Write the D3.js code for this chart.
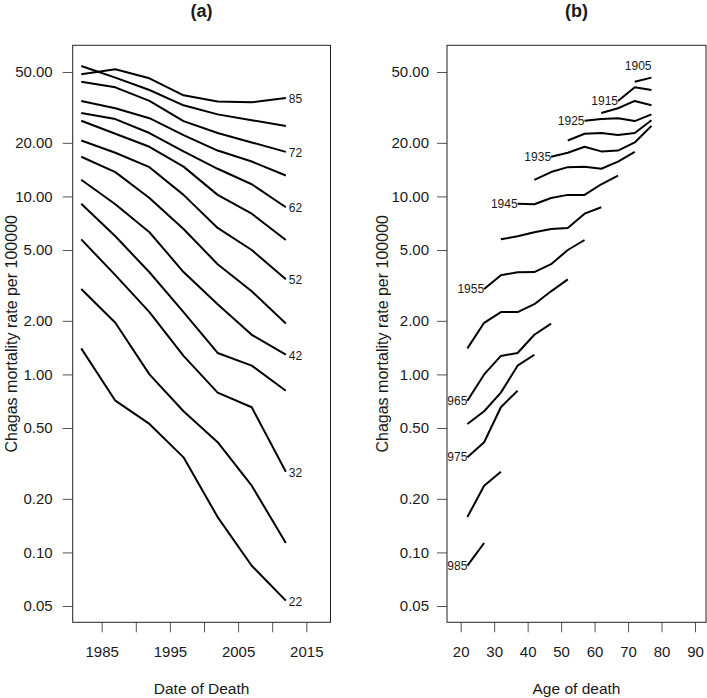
<!DOCTYPE html>
<html><head><meta charset="utf-8">
<script src="https://cdn.jsdelivr.net/npm/d3@7"></script>
<style>
body{margin:0;background:#fff}
svg{display:block}
text{font-family:"Liberation Sans",Arial,Helvetica,sans-serif;fill:#1a1a1a}
</style>
</head><body>
<svg id="chart" width="707" height="698"></svg>
<script>
// ---------------- data ----------------
const years = [1982, 1987, 1992, 1997, 2002, 2007, 2012];
const ages = [22, 27, 32, 37, 42, 47, 52, 57, 62, 67, 72, 77];
// Chagas mortality rate per 100000 by age group (rows) and year of death (columns)
const rateAge22 = [1.40, 0.712, 0.527, 0.342, 0.158, 0.0842, 0.0536];
const rateAge27 = [3.02, 1.95, 1.00, 0.621, 0.416, 0.237, 0.113];
const rateAge32 = [5.74, 3.61, 2.24, 1.27, 0.790, 0.654, 0.284];
const rateAge37 = [9.10, 5.97, 3.75, 2.24, 1.32, 1.12, 0.810];
const rateAge42 = [12.4, 9.03, 6.29, 3.76, 2.48, 1.67, 1.29];
const rateAge47 = [16.7, 13.7, 9.80, 6.56, 4.16, 2.93, 1.93];
const rateAge52 = [20.6, 17.6, 14.6, 10.2, 6.65, 5.00, 3.42];
const rateAge57 = [26.6, 22.5, 19.0, 14.7, 10.2, 8.00, 5.69];
const rateAge62 = [29.4, 27.2, 22.7, 17.9, 14.3, 11.7, 8.69];
const rateAge67 = [34.4, 31.3, 27.5, 22.1, 18.1, 15.7, 13.1];
const rateAge72 = [44.1, 41.0, 34.4, 26.5, 22.7, 20.1, 17.8];
const rateAge77 = [54.0, 46.5, 39.6, 32.5, 28.9, 26.8, 24.9];
const rateAge85 = [48.5, 51.8, 46.1, 37.0, 34.1, 33.8, 35.7];
const rateRows = [rateAge22, rateAge27, rateAge32, rateAge37, rateAge42, rateAge47,
                  rateAge52, rateAge57, rateAge62, rateAge67, rateAge72, rateAge77];
const openAgeLabel = 85;

const ageLabels = [22, 32, 42, 52, 62, 72, 85];
const cohorts = [1905, 1910, 1915, 1920, 1925, 1930, 1935, 1940, 1945, 1950, 1955, 1960, 1965, 1970, 1975, 1980, 1985];
const cohortLabels = [1905, 1915, 1925, 1935, 1945, 1955, 1965, 1975, 1985];

const yTicks = [0.05, 0.10, 0.20, 0.50, 1.00, 2.00, 5.00, 10.00, 20.00, 50.00];
const xTicksA = [1985, 1990, 1995, 2000, 2005, 2010, 2015];
const xLabelsA = [1985, 1995, 2005, 2015];
const xTicksB = [20, 30, 40, 50, 60, 70, 80, 90];

const titleA = "(a)", titleB = "(b)";
const xTitleA = "Date of Death", xTitleB = "Age of death";
const yTitle = "Chagas mortality rate per 100000";

// ---------------- layout ----------------
const svg = d3.select("#chart");
const plotTop = 45.3, plotBottom = 622.3;
const boxA = {x0: 72.7, x1: 330.5};
const boxB = {x0: 447, x1: 706};

const y = d3.scaleLog().domain([0.05, 50]).range([606, 72]);
const xA = d3.scaleLinear().domain([1985, 2015]).range([101.7, 306.3]);
const xB = d3.scaleLinear().domain([20, 90]).range([460.7, 695]);

const defs = svg.append("defs");
[["clipA", boxA], ["clipB", boxB]].forEach(([id, b]) => {
  defs.append("clipPath").attr("id", id).append("rect")
    .attr("x", b.x0).attr("y", plotTop).attr("width", b.x1 - b.x0).attr("height", plotBottom - plotTop);
});

const fmt = d3.format(".2f");
const line = (xs) => d3.line().x(d => xs(d[0])).y(d => y(d[1]));

function drawAxes(box, xs, xTicks, xLabels, yPad, title, xTitle, yTitleX) {
  const g = svg.append("g");
  const ya = g.append("g").attr("transform", `translate(${box.x0},0)`)
    .call(d3.axisLeft(y).tickValues(yTicks).tickFormat(fmt).tickSize(10).tickPadding(yPad));
  ya.select(".domain").remove();
  ya.selectAll(".tick line").attr("stroke", "#555");
  ya.selectAll(".tick text").style("font-size", "15px").attr("fill", "#1a1a1a");
  const xa = g.append("g").attr("transform", `translate(0,${plotBottom})`)
    .call(d3.axisBottom(xs).tickValues(xTicks)
      .tickFormat(d => xLabels.includes(d) ? String(d) : "").tickSize(10).tickPadding(14));
  xa.select(".domain").remove();
  xa.selectAll(".tick line").attr("stroke", "#555");
  xa.selectAll(".tick text").style("font-size", "15px").attr("fill", "#1a1a1a");
  g.append("rect").attr("x", box.x0).attr("y", plotTop)
    .attr("width", box.x1 - box.x0).attr("height", plotBottom - plotTop)
    .attr("fill", "none").attr("stroke", "#222").attr("stroke-width", 1);
  const cx = (box.x0 + box.x1) / 2;
  g.append("text").attr("x", cx).attr("y", 11).attr("text-anchor", "middle")
    .attr("dominant-baseline", "central").style("font-size", "18px").style("font-weight", "bold").text(title);
  g.append("text").attr("x", cx).attr("y", 688).attr("text-anchor", "middle")
    .attr("dominant-baseline", "central").style("font-size", "15.5px").text(xTitle);
  g.append("text").attr("transform", `translate(${yTitleX},${(plotTop + plotBottom) / 2}) rotate(-90)`)
    .attr("text-anchor", "middle").attr("dominant-baseline", "central")
    .style("font-size", "16px").text(yTitle);
}

drawAxes(boxA, xA, xTicksA, xLabelsA, 10, titleA, xTitleA, 11.7);
drawAxes(boxB, xB, xTicksB, xTicksB, 8, titleB, xTitleB, 382.5);

// ---------------- panel (a): period curves by age ----------------
const gA = svg.append("g").attr("clip-path", "url(#clipA)");
const seriesA = rateRows.map((r, i) => ({age: ages[i], pts: years.map((yr, j) => [yr, r[j]])}));
seriesA.push({age: openAgeLabel, pts: years.map((yr, j) => [yr, rateAge85[j]])});
gA.selectAll("path.a").data(seriesA).join("path").attr("class", "a")
  .attr("d", d => line(xA)(d.pts)).attr("fill", "none")
  .attr("stroke", "#000").attr("stroke-width", 2).attr("stroke-linejoin", "round");
gA.selectAll("text.lab").data(seriesA.filter(s => ageLabels.includes(s.age))).join("text")
  .attr("class", "lab")
  .attr("x", d => xA(d.pts[d.pts.length - 1][0]) + 3)
  .attr("y", d => y(d.pts[d.pts.length - 1][1]) + 1)
  .attr("dominant-baseline", "central").style("font-size", "12px")
  .text(d => d.age);

// ---------------- panel (b): cohort curves by age ----------------
const gB = svg.append("g").attr("clip-path", "url(#clipB)");
const seriesB = cohorts.map(c => ({
  cohort: c,
  pts: ages.map((a, i) => {
    const j = years.indexOf(c + a);
    return j >= 0 ? [a, rateRows[i][j]] : null;
  }).filter(p => p)
}));
gB.selectAll("path.b").data(seriesB.filter(s => s.pts.length > 1)).join("path").attr("class", "b")
  .attr("d", d => line(xB)(d.pts)).attr("fill", "none")
  .attr("stroke", "#000").attr("stroke-width", 2).attr("stroke-linejoin", "round");
gB.selectAll("text.lab").data(seriesB.filter(s => cohortLabels.includes(s.cohort) && s.pts.length)).join("text")
  .attr("class", "lab")
  .attr("x", d => xB(d.pts[0][0]))
  .attr("y", d => y(d.pts[0][1]))
  .attr("text-anchor", "end").attr("dominant-baseline", "central").style("font-size", "12px")
  .text(d => d.cohort);
</script>
</body></html>
